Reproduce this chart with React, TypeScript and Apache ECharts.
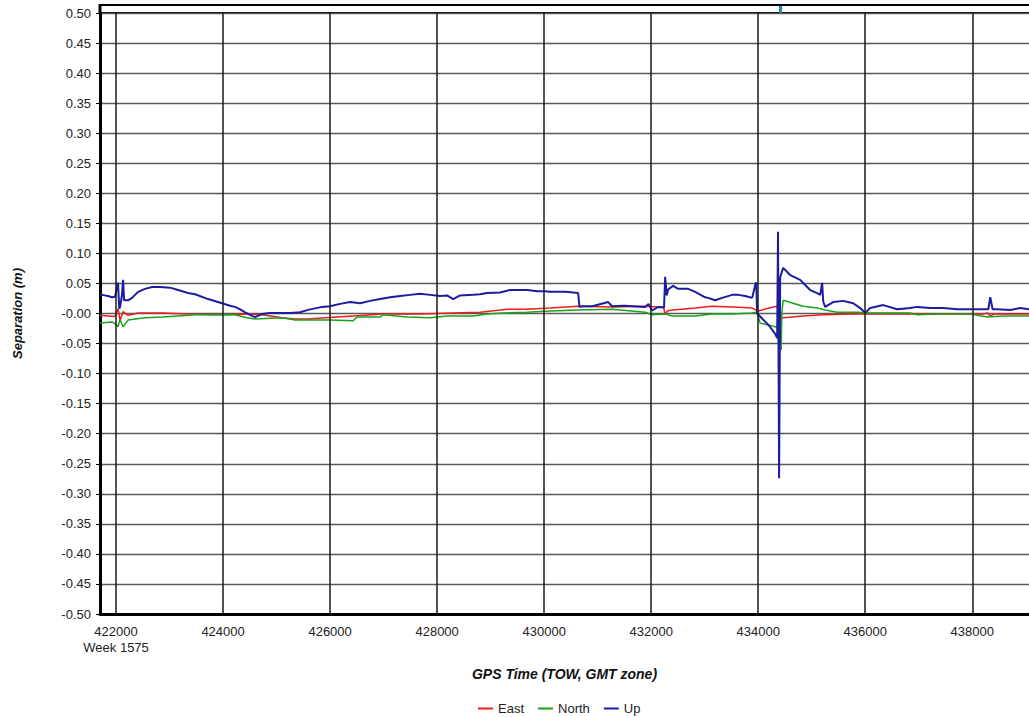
import React, { useEffect, useRef } from "react";
import * as echarts from "echarts";

// X tick labels (GPS time of week)
const xTicks = [422000, 424000, 426000, 428000, 430000, 432000, 434000, 436000, 438000];
const xMin = 421700;
const xMax = 439060;

// Series values: [TOW, separation (m)]
const upData: [number, number][] = [
  [421700, 0.031], [421740, 0.031], [421850, 0.029], [421925, 0.027], [421980, 0.028],
  [422020, 0.045], [422037, 0.051], [422060, 0.008], [422075, 0.011], [422110, 0.030],
  [422131, 0.056], [422150, 0.022], [422224, 0.022], [422299, 0.026], [422411, 0.036],
  [422542, 0.041], [422673, 0.044], [422822, 0.044], [423009, 0.043], [423159, 0.039],
  [423346, 0.034], [423477, 0.032], [423720, 0.024], [423981, 0.017], [424131, 0.013],
  [424224, 0.011], [424318, 0.007], [424411, 0.002], [424542, -0.004], [424598, -0.006],
  [424729, -0.001], [424878, 0.001], [425028, 0.001], [425252, 0.001], [425439, 0.002],
  [425589, 0.006], [425850, 0.011], [426000, 0.012], [426187, 0.016], [426373, 0.019],
  [426560, 0.017], [426747, 0.021], [426934, 0.024], [427121, 0.027], [427308, 0.029],
  [427495, 0.031], [427682, 0.033], [427869, 0.031], [428056, 0.029], [428186, 0.030],
  [428300, 0.024], [428429, 0.030], [428672, 0.031], [428803, 0.032], [428934, 0.034],
  [429177, 0.035], [429364, 0.039], [429682, 0.039], [429870, 0.037], [430018, 0.037],
  [430111, 0.036], [430400, 0.036], [430635, 0.034], [430660, 0.011], [430710, 0.012],
  [430900, 0.012], [431196, 0.019], [431270, 0.012], [431500, 0.013], [431887, 0.011],
  [431950, 0.016], [432018, 0.005], [432130, 0.011], [432240, 0.010], [432261, 0.061],
  [432290, 0.030], [432317, 0.040], [432410, 0.046], [432504, 0.041], [432691, 0.041],
  [432822, 0.036], [433009, 0.027], [433065, 0.026], [433195, 0.022], [433326, 0.026],
  [433513, 0.031], [433625, 0.031], [433756, 0.029], [433887, 0.026], [433943, 0.047],
  [433962, 0.052], [433980, 0.000], [434036, -0.005], [434200, -0.020], [434317, -0.034],
  [434354, -0.041], [434370, 0.136], [434390, -0.274], [434410, 0.060], [434466, 0.076],
  [434597, 0.064], [434784, 0.056], [434971, 0.039], [435102, 0.034], [435158, 0.031],
  [435195, 0.051], [435214, 0.020], [435251, 0.011], [435401, 0.019], [435588, 0.021],
  [435775, 0.017], [435906, 0.009], [435999, 0.001], [436093, 0.009], [436336, 0.014],
  [436597, 0.007], [436840, 0.009], [436971, 0.011], [437214, 0.009], [437457, 0.009],
  [437719, 0.007], [437962, 0.007], [438205, 0.007], [438300, 0.007], [438336, 0.027],
  [438380, 0.007], [438467, 0.007], [438709, 0.006], [438896, 0.009], [439060, 0.007],
];

const eastData: [number, number][] = [
  [421700, -0.003], [421850, -0.004], [421980, -0.005], [422037, 0.008], [422075, -0.012],
  [422131, 0.003], [422224, -0.003], [422411, 0.001], [422673, 0.001], [422860, 0.001],
  [423346, -0.001], [423794, -0.002], [424093, -0.002], [424411, -0.001], [424729, -0.002],
  [425103, -0.007], [425346, -0.009], [425589, -0.009], [425906, -0.007], [426430, -0.004],
  [426990, -0.001], [427682, -0.001], [428299, 0.001], [428803, 0.002], [429308, 0.007],
  [429682, 0.007], [430111, 0.009], [430635, 0.012], [431270, 0.011], [431887, 0.012],
  [432130, 0.011], [432230, 0.011], [432261, -0.002], [432300, 0.004], [432392, 0.006],
  [432822, 0.009], [433139, 0.012], [433513, 0.011], [433887, 0.009], [433999, 0.004],
  [434200, 0.009], [434354, 0.012], [434420, -0.008], [434466, -0.007], [434840, -0.004],
  [435214, -0.002], [435775, -0.001], [436093, -0.001], [437000, -0.001], [438205, -0.001],
  [438280, 0.001], [438336, -0.004], [438400, -0.001], [439060, -0.001],
];

const northData: [number, number][] = [
  [421700, -0.016], [421925, -0.014], [422000, -0.018], [422037, -0.022], [422075, -0.010],
  [422131, -0.022], [422224, -0.011], [422542, -0.007], [422860, -0.006], [423159, -0.004],
  [423477, -0.002], [423794, -0.002], [424224, -0.002], [424448, -0.007], [424598, -0.009],
  [425103, -0.007], [425346, -0.011], [425663, -0.011], [426000, -0.011], [426430, -0.012],
  [426504, -0.006], [426934, -0.006], [426990, -0.002], [427439, -0.006], [427869, -0.007],
  [428186, -0.004], [428672, -0.004], [428934, -0.001], [429233, 0.001], [429682, 0.002],
  [430111, 0.004], [430635, 0.006], [431270, 0.007], [431887, 0.002], [432018, -0.002],
  [432261, -0.001], [432392, -0.004], [432822, -0.004], [433139, -0.001], [433513, -0.001],
  [433887, 0.001], [433980, 0.002], [434036, -0.016], [434317, -0.022], [434354, -0.024],
  [434410, -0.027], [434429, -0.061], [434440, 0.000], [434466, 0.022], [434653, 0.017],
  [434840, 0.012], [435102, 0.009], [435251, 0.006], [435476, 0.002], [435850, 0.002],
  [436093, 0.001], [436840, 0.001], [436971, -0.002], [437345, -0.001], [437962, -0.001],
  [438280, -0.006], [438578, -0.004], [439060, -0.004],
];

const FONT = "'Liberation Sans', Arial, sans-serif";

export default function App() {
  const ref = useRef<HTMLDivElement>(null);

  useEffect(() => {
    if (!ref.current) return;
    const chart = echarts.init(ref.current, null, { renderer: "svg" });
    chart.setOption({
      animation: false,
      backgroundColor: "#ffffff",
      textStyle: { fontFamily: FONT },
      grid: { left: 100, right: 0, top: 13, bottom: 103, containLabel: false },
      legend: {
        data: ["East", "North", "Up"],
        left: 473,
        top: 697,
        icon: "rect",
        itemWidth: 15,
        itemHeight: 2,
        itemGap: 14,
        textStyle: { fontFamily: FONT, fontSize: 13, color: "#222" },
      },
      xAxis: {
        type: "value",
        min: xMin,
        max: xMax,
        name: "GPS Time (TOW, GMT zone)",
        nameLocation: "middle",
        nameGap: 53,
        nameTextStyle: { fontFamily: FONT, fontSize: 14, fontWeight: "bold", fontStyle: "italic", color: "#111" },
        axisLine: { onZero: false, lineStyle: { color: "#000", width: 3 } },
        axisTick: { show: false, customValues: xTicks },
        splitLine: { show: false },
        axisLabel: {
          customValues: xTicks,
          margin: 9,
          fontFamily: FONT,
          fontSize: 13,
          color: "#222",
          lineHeight: 16,
          formatter: (v: number) => (v === 422000 ? "422000\nWeek 1575" : String(v)),
        },
      },
      yAxis: {
        type: "value",
        min: -0.5,
        max: 0.5,
        interval: 0.05,
        name: "Separation (m)",
        nameLocation: "middle",
        nameGap: 76,
        nameTextStyle: { fontFamily: FONT, fontSize: 13, fontWeight: "bold", fontStyle: "italic", color: "#111" },
        axisLine: { show: true, lineStyle: { color: "#000", width: 3 } },
        axisTick: { show: true, length: 4, lineStyle: { color: "#000", width: 1 } },
        splitLine: { show: true, lineStyle: { color: "#5a5a5a", width: 1.3 } },
        axisLabel: {
          margin: 9,
          fontFamily: FONT,
          fontSize: 13,
          color: "#222",
          formatter: (v: number) => (Math.abs(v) < 1e-9 ? "-0.00" : v.toFixed(2)),
        },
      },
      graphic: [
        { type: "line", shape: { x1: 99, y1: 5, x2: 1029, y2: 5 }, style: { stroke: "#000", lineWidth: 2 } },
        { type: "line", shape: { x1: 100, y1: 13, x2: 1029, y2: 13 }, style: { stroke: "#000", lineWidth: 2 } },
        { type: "line", shape: { x1: 100, y1: 4, x2: 100, y2: 14 }, style: { stroke: "#000", lineWidth: 3 } },
        { type: "rect", shape: { x: 779, y: 6, width: 3, height: 7 }, style: { fill: "#1f8fa0" } },
      ],
      series: [
        {
          name: "grid",
          type: "line",
          data: [],
          z: 1,
          silent: true,
          markLine: {
            silent: true,
            symbol: ["none", "none"],
            label: { show: false },
            lineStyle: { color: "#1a1a1a", width: 1.5, type: "solid" },
            emphasis: { disabled: true },
            data: xTicks.map((v) => ({ xAxis: v })),
          },
        },
        {
          name: "East",
          type: "line",
          data: eastData,
          showSymbol: false,
          z: 3,
          lineStyle: { color: "#ee1c1c", width: 1.5 },
          itemStyle: { color: "#ee1c1c" },
        },
        {
          name: "North",
          type: "line",
          data: northData,
          showSymbol: false,
          z: 3,
          lineStyle: { color: "#1aa31a", width: 1.5 },
          itemStyle: { color: "#1aa31a" },
        },
        {
          name: "Up",
          type: "line",
          data: upData,
          showSymbol: false,
          z: 4,
          lineStyle: { color: "#1c1ca0", width: 2 },
          itemStyle: { color: "#1c1ca0" },
        },
      ],
    });
    return () => chart.dispose();
  }, []);

  return (
    <div
      ref={ref}
      style={{ position: "absolute", left: 0, top: 0, width: 1029, height: 717, background: "#fff" }}
    />
  );
}
